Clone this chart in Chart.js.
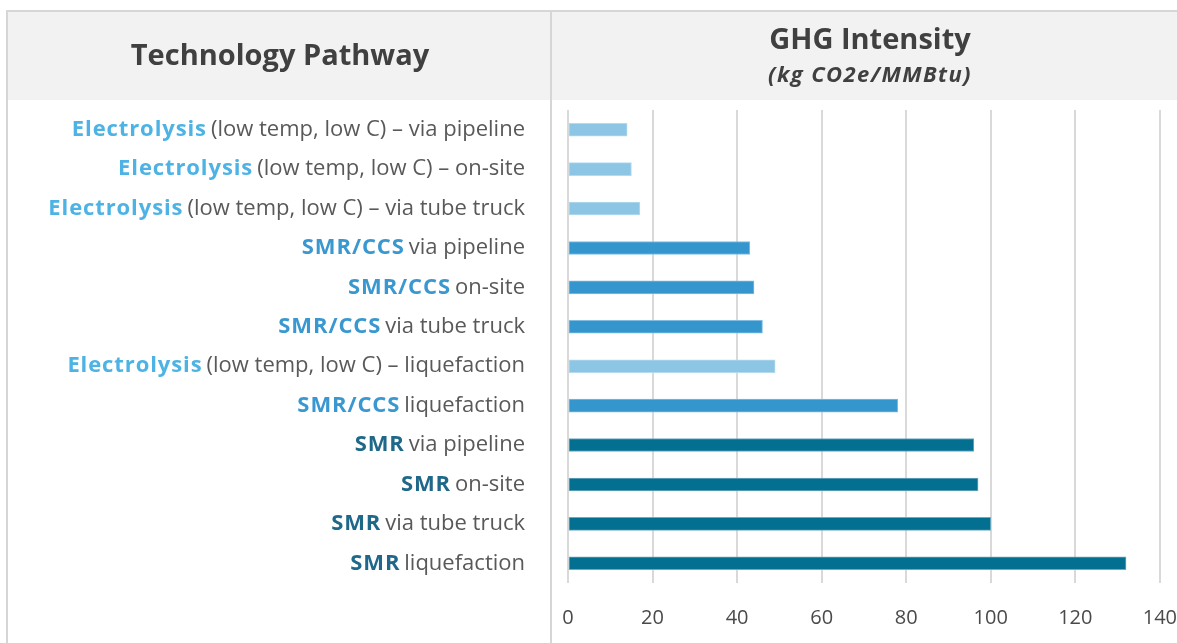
<!DOCTYPE html>
<html>
<head>
<meta charset="utf-8">
<script src="https://cdn.jsdelivr.net/npm/chart.js@4/dist/chart.umd.min.js"></script>
<style>
    html, body { margin: 0; padding: 0; background: #fff; overflow: hidden; }
    #wrap { position: relative; width: 1200px; height: 643px; }
</style>
</head>
<body>
<div id="wrap"><canvas id="ghgChart"></canvas></div>
<script>
// ============================================================
//  DATA
// ============================================================
const techNames = [
    'Electrolysis', 'Electrolysis', 'Electrolysis',
    'SMR/CCS', 'SMR/CCS', 'SMR/CCS',
    'Electrolysis', 'SMR/CCS',
    'SMR', 'SMR', 'SMR', 'SMR'
];
const pathways = [
    '(low temp, low C) – via pipeline',
    '(low temp, low C) – on-site',
    '(low temp, low C) – via tube truck',
    'via pipeline',
    'on-site',
    'via tube truck',
    '(low temp, low C) – liquefaction',
    'liquefaction',
    'via pipeline',
    'on-site',
    'via tube truck',
    'liquefaction'
];
const ghgValues  = [14, 15, 17, 43, 44, 46, 49, 78, 96, 97, 100, 132];
const xTickMin   = 0;
const xTickMax   = 140;
const xTickStep  = 20;

const headerLeft   = 'Technology Pathway';
const headerRight  = 'GHG Intensity';
const headerUnits  = '(kg CO2e/MMBtu)';

// ============================================================
//  STYLE
// ============================================================
const FONT = '"Open Sans", "Noto Sans", sans-serif';
const techColors = {
    'Electrolysis': { bar: '#8dc6e5', edge: '#b4daef', text: '#4db3e4' },
    'SMR/CCS'     : { bar: '#3596cd', edge: '#7fbde2', text: '#3a98d0' },
    'SMR'         : { bar: '#036f91', edge: '#6fa9be', text: '#1f6889' }
};
const gridGray = '#d9d9d9';
const textGray = '#595959';
const headGray = '#404040';

const fullLabels = techNames.map(function (t, i) { return t + ' ' + pathways[i]; });

// table frame, headers and two-tone category labels
const tablePlugin = {
    id: 'tableFrame',
    beforeDraw: function (chart) {
        const ctx = chart.ctx;
        const w   = chart.width;
        const h   = chart.height;
        ctx.save();
        ctx.fillStyle = '#ffffff';
        ctx.fillRect(0, 0, w, h);
        // header band
        ctx.fillStyle = '#f2f2f2';
        ctx.fillRect(8, 12, w - 8, 88);
        // borders
        ctx.strokeStyle = '#d6d6d6';
        ctx.lineWidth = 2;
        ctx.beginPath();
        ctx.moveTo(7, h); ctx.lineTo(7, 11); ctx.lineTo(w, 11);
        ctx.moveTo(551, 11); ctx.lineTo(551, h);
        ctx.stroke();
        // header text
        ctx.fillStyle = headGray;
        ctx.textAlign = 'center';
        ctx.textBaseline = 'middle';
        ctx.font = 'bold 29px ' + FONT;
        ctx.fillText(headerLeft, 280, 57);
        ctx.fillText(headerRight, 870, 41);
        ctx.font = 'italic bold 22px ' + FONT;
        ctx.letterSpacing = '1.4px';
        ctx.fillText(headerUnits, 870, 76);
        ctx.restore();
    },
    afterDraw: function (chart) {
        const ctx    = chart.ctx;
        const yScale = chart.scales.y;
        const right  = 525;
        ctx.save();
        ctx.textBaseline = 'middle';
        ctx.textAlign = 'left';
        techNames.forEach(function (t, i) {
            const y = yScale.getPixelForValue(i);
            ctx.letterSpacing = '0px';
            ctx.font = '22px ' + FONT;
            const restW = ctx.measureText(pathways[i]).width;
            ctx.letterSpacing = '0.9px';
            ctx.font = 'bold 22px ' + FONT;
            const boldW = ctx.measureText(t).width;
            const gap   = 4;
            const x0    = right - restW - gap - boldW;
            ctx.fillStyle = techColors[t].text;
            ctx.fillText(t, x0, y);
            ctx.letterSpacing = '0px';
            ctx.font = '22px ' + FONT;
            ctx.fillStyle = textGray;
            ctx.fillText(pathways[i], x0 + boldW + gap, y);
        });
        ctx.restore();
    }
};

new Chart(document.getElementById('ghgChart'), {
    type: 'bar',
    data: {
        labels: fullLabels,
        datasets: [{
            data: ghgValues,
            backgroundColor: techNames.map(function (t) { return techColors[t].bar; }),
            borderColor: techNames.map(function (t) { return techColors[t].edge; }),
            borderWidth: 1,
            borderSkipped: false,
            barThickness: 13
        }]
    },
    options: {
        indexAxis: 'y',
        responsive: true, maintainAspectRatio: false,
        animation: false,
        layout: { padding: { left: 568, top: 110, right: 37, bottom: 0 } },
        plugins: { legend: { display: false }, tooltip: { enabled: false } },
        scales: {
            x: {
                min: xTickMin, max: xTickMax,
                grid: { color: gridGray, lineWidth: 2, drawTicks: false },
                border: { display: false },
                ticks: { stepSize: xTickStep, color: '#4a4a4a', padding: 23, font: { family: FONT, size: 20 } },
                afterFit: function (s) { s.height = 60; }
            },
            y: {
                grid: { display: false },
                border: { display: false },
                ticks: { display: false },
                afterFit: function (s) { s.width = 0; }
            }
        }
    },
    plugins: [tablePlugin]
});
</script>
</body>
</html>
